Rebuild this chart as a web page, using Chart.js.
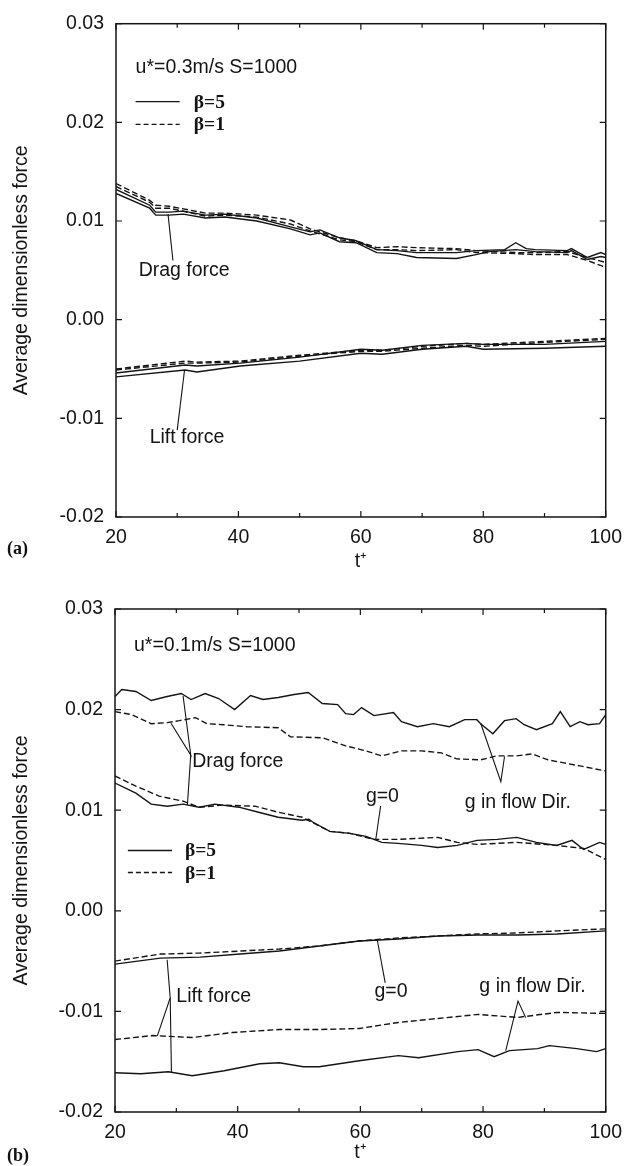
<!DOCTYPE html>
<html>
<head>
<meta charset="utf-8">
<script src="https://cdn.jsdelivr.net/npm/chart.js@4.4.1/dist/chart.umd.min.js"></script>
<style>
  html, body { margin: 0; padding: 0; background: #fff; }
  body { width: 631px; height: 1166px; position: relative; overflow: hidden; }
  canvas { position: absolute; left: 0; }
  #chartA { top: 0; }
  #chartB { top: 580px; }
  .tag { position: absolute; font: bold 18px/18px "Liberation Serif", serif; color: #111; }
</style>
</head>
<body>
<canvas id="chartA" width="631" height="580"></canvas>
<canvas id="chartB" width="631" height="586"></canvas>
<div class="tag" style="left:7px; top:539px">(a)</div>
<div class="tag" style="left:7px; top:1146px">(b)</div>
<script>
// axes
const xTicks = [20, 40, 60, 80, 100];
const xMinor = [30, 50, 70, 90];
const yTicks = [-0.02, -0.01, 0.00, 0.01, 0.02, 0.03];

// (a) u* = 0.3 m/s : [t+, force]
const aDragSolidHi = [[20,0.0132],[25.5,0.0116],[26.5,0.0109],[28.7,0.0109],[31,0.0110],[34.6,0.0106],[37.8,0.0107],[43,0.0103],[48.5,0.0094],[51.7,0.0089],[53.3,0.0091],[56.5,0.0083],[59.2,0.0080],[62.6,0.0071],[65.9,0.0070],[69.1,0.0068],[75.6,0.0068],[78.8,0.0070],[83.5,0.0071],[85.3,0.0078],[87,0.0072],[88.5,0.0071],[93.7,0.0070],[94.4,0.0072],[97,0.0063],[99.2,0.0068],[100,0.0066]];
const aDragSolidLo = [[20,0.0128],[25.5,0.0113],[26.5,0.0106],[28.7,0.0106],[31,0.0107],[34.6,0.0103],[37.8,0.0104],[43,0.0100],[48.5,0.0092],[51.7,0.0086],[53.3,0.0088],[56.5,0.0079],[59.2,0.0078],[62.6,0.0068],[65.9,0.0067],[69.1,0.0063],[75.6,0.0062],[78.8,0.0066],[81,0.0069],[85.3,0.0071],[88.5,0.0069],[93.7,0.0068],[94.4,0.0070],[97,0.0061],[99.2,0.0064],[100,0.0063]];
const aDragDashHi = [[20,0.0138],[25.5,0.0121],[26.5,0.0116],[28.7,0.0115],[34.6,0.0108],[37.8,0.0108],[43,0.0106],[48.5,0.0101],[51.7,0.0092],[56.5,0.0083],[59.2,0.0080],[62.6,0.0073],[65.9,0.0074],[69.1,0.0073],[75.6,0.0072],[78.8,0.0070],[85.3,0.0068],[88.5,0.0068],[93.7,0.0069],[97,0.0063],[100,0.0058]];
const aDragDashLo = [[20,0.0135],[25.5,0.0119],[26.5,0.0113],[28.7,0.0113],[34.6,0.0105],[37.8,0.0106],[43,0.0104],[48.5,0.0097],[51.7,0.0090],[56.5,0.0081],[59.2,0.0079],[62.6,0.0071],[65.9,0.0071],[69.1,0.0070],[75.6,0.0071],[78.8,0.0068],[85.3,0.0067],[88.5,0.0066],[93.7,0.0066],[97,0.0060],[100,0.0053]];
const aLiftSolidHi = [[20,-0.0054],[31.3,-0.0046],[33.2,-0.0047],[40.3,-0.0044],[50,-0.0038],[60,-0.0030],[63.5,-0.0031],[70,-0.0026],[77.2,-0.0024],[80,-0.0025],[90,-0.0025],[100,-0.0022]];
const aLiftSolidLo = [[20,-0.0058],[31.3,-0.0051],[33.2,-0.0053],[40.3,-0.0047],[50,-0.0042],[60,-0.0034],[63.5,-0.0035],[70,-0.0030],[77.2,-0.0027],[80,-0.0030],[90,-0.0029],[100,-0.0027]];
const aLiftDashHi = [[20,-0.0050],[31.3,-0.0042],[33.2,-0.0043],[40.3,-0.0042],[50,-0.0036],[60,-0.0031],[63.5,-0.0031],[70,-0.0027],[77.2,-0.0024],[80,-0.0025],[90,-0.0022],[100,-0.0019]];
const aLiftDashLo = [[20,-0.0051],[31.3,-0.0044],[33.2,-0.0044],[40.3,-0.0043],[50,-0.0037],[60,-0.0032],[63.5,-0.0032],[70,-0.0029],[77.2,-0.0026],[80,-0.0027],[90,-0.0023],[100,-0.0020]];

// (b) u* = 0.1 m/s : [t+, force]
const bDragFlow5 = [[20,0.0213],[21.1,0.0220],[23.4,0.0218],[25.9,0.0209],[28.5,0.0213],[30.8,0.0216],[32.4,0.0210],[34.7,0.0216],[36.9,0.0211],[39.5,0.0200],[42.1,0.0214],[44.1,0.0210],[46.6,0.0212],[49.2,0.0215],[51.5,0.0217],[53.8,0.0206],[56.3,0.0205],[57.6,0.0196],[58.9,0.0195],[60.2,0.0202],[62.2,0.0194],[65.4,0.0197],[66.7,0.0188],[69.3,0.0183],[71.9,0.0186],[74.5,0.0183],[77.0,0.0190],[79.0,0.0190],[79.6,0.0186],[81.6,0.0176],[83.5,0.0189],[85.4,0.0191],[86.7,0.0185],[88.7,0.0180],[91.3,0.0186],[92.6,0.0198],[94.2,0.0183],[95.8,0.0188],[97.1,0.0185],[99.0,0.0186],[100,0.0195]];
const bDragFlow1 = [[20,0.0198],[22.7,0.0195],[25.9,0.0186],[28.5,0.0187],[30.5,0.0189],[33.1,0.0192],[35.0,0.0186],[37.6,0.0185],[41.5,0.0183],[46.6,0.0182],[48.6,0.0173],[53.8,0.0172],[57.6,0.0164],[60.9,0.0159],[63.5,0.0154],[66.7,0.0159],[69.9,0.0159],[73.2,0.0157],[75.7,0.0151],[79.6,0.0150],[82.2,0.0154],[85.4,0.0154],[88.0,0.0156],[90.6,0.0150],[93.2,0.0147],[95.8,0.0144],[100,0.0139]];
const bDragZero5 = [[20,0.0127],[23.4,0.0117],[25.9,0.0106],[28.5,0.0104],[31.1,0.0106],[33.7,0.0103],[36.3,0.0106],[40.2,0.0103],[43.4,0.0098],[46.6,0.0093],[50.5,0.0090],[51.6,0.0091],[52.3,0.0088],[55.0,0.0079],[58.3,0.0077],[60.9,0.0074],[63.5,0.0068],[66.1,0.0067],[70.0,0.0065],[72.6,0.0063],[75.8,0.0065],[79.0,0.0070],[82.3,0.0071],[85.5,0.0073],[88.7,0.0068],[92.0,0.0065],[94.5,0.0070],[96.4,0.0061],[99.0,0.0068],[100,0.0066]];
const bDragZero1 = [[20,0.0134],[23.4,0.0124],[27.2,0.0114],[31.1,0.0109],[33.7,0.0103],[37.6,0.0105],[42.8,0.0104],[46.6,0.0098],[50.5,0.0093],[55.0,0.0079],[58.3,0.0077],[62.2,0.0071],[66.1,0.0071],[72.6,0.0073],[75.8,0.0068],[79.0,0.0066],[85.5,0.0068],[92.0,0.0065],[96.4,0.0062],[100,0.0051]];
const bLiftZero5 = [[20,-0.0053],[27.4,-0.0047],[33.9,-0.0046],[40.4,-0.0043],[46.8,-0.0040],[53.3,-0.0035],[59.8,-0.0030],[63.0,-0.0029],[66.2,-0.0028],[72.7,-0.0025],[79.2,-0.0024],[85.6,-0.0024],[92.1,-0.0023],[100,-0.0020]];
const bLiftZero1 = [[20,-0.0050],[27.4,-0.0043],[33.9,-0.0042],[40.4,-0.0040],[46.8,-0.0038],[53.3,-0.0035],[59.8,-0.0030],[66.2,-0.0027],[72.7,-0.0025],[79.2,-0.0023],[85.6,-0.0022],[92.1,-0.0020],[100,-0.0018]];
const bLiftFlow1 = [[20,-0.0128],[26.1,-0.0124],[32.6,-0.0126],[39.1,-0.0121],[46.8,-0.0118],[53.3,-0.0118],[59.8,-0.0117],[66.2,-0.0111],[72.7,-0.0107],[79.2,-0.0103],[85.6,-0.0106],[92.1,-0.0101],[100,-0.0102]];
const bLiftFlow5 = [[20,-0.0161],[24.2,-0.0162],[28.7,-0.0160],[32.6,-0.0164],[37.8,-0.0159],[43.6,-0.0152],[46.8,-0.0151],[50.7,-0.0155],[53.3,-0.0155],[59.8,-0.0149],[66.2,-0.0144],[69.5,-0.0146],[75.9,-0.0140],[79.2,-0.0138],[81.8,-0.0145],[84.3,-0.0139],[88.9,-0.0137],[90.8,-0.0134],[95.3,-0.0137],[98.5,-0.0140],[100,-0.0137]];

const ink = '#141414';
const sans = '"Liberation Sans", Arial, sans-serif';
const DASH = [6, 3];

function series(points, dashed) {
  return {
    data: points.map(([x, y]) => ({ x, y })),
    borderColor: ink,
    borderWidth: 1.4,
    borderDash: dashed ? DASH : [],
    pointRadius: 0,
    tension: 0,
    fill: false
  };
}

// frame with inward ticks, leader lines, in-plot text and legend
const overlay = {
  id: 'overlay',
  afterDraw(chart, args, o) {
    const { ctx, chartArea: a, scales: { x, y } } = chart;
    const px = t => x.getPixelForValue(t);
    const py = v => y.getPixelForValue(v);
    ctx.save();
    ctx.strokeStyle = ink;
    ctx.lineWidth = 1.5;
    ctx.setLineDash([]);
    ctx.strokeRect(a.left, a.top, a.right - a.left, a.bottom - a.top);

    ctx.lineWidth = 1.2;
    ctx.beginPath();
    xTicks.concat(xMinor).forEach(t => {
      const len = xTicks.includes(t) ? 6 : 4;
      ctx.moveTo(px(t), a.bottom); ctx.lineTo(px(t), a.bottom - len);
      ctx.moveTo(px(t), a.top); ctx.lineTo(px(t), a.top + len);
    });
    yTicks.forEach(v => {
      ctx.moveTo(a.left, py(v)); ctx.lineTo(a.left + 6, py(v));
      ctx.moveTo(a.right, py(v)); ctx.lineTo(a.right - 6, py(v));
    });
    ctx.stroke();

    ctx.lineWidth = 1.1;
    o.leaders.forEach(path => {
      ctx.beginPath();
      path.forEach(([t, v], i) => i ? ctx.lineTo(px(t), py(v)) : ctx.moveTo(px(t), py(v)));
      ctx.stroke();
    });

    ctx.fillStyle = ink;
    ctx.textBaseline = 'middle';
    ctx.textAlign = 'left';
    ctx.font = '19.5px ' + sans;
    o.labels.forEach(l => ctx.fillText(l.text, px(l.t), py(l.v)));

    const lg = o.legend;
    ctx.lineWidth = 1.4;
    lg.items.forEach(it => {
      ctx.setLineDash(it.dash);
      ctx.beginPath();
      ctx.moveTo(px(lg.t0), py(it.v));
      ctx.lineTo(px(lg.t1), py(it.v));
      ctx.stroke();
      ctx.setLineDash([]);
      ctx.font = 'bold 19.5px "Liberation Serif", serif';
      ctx.fillText(it.text, px(lg.tText), py(it.v) + 1);
    });
    ctx.restore();
  }
};

function makeChart(id, datasets, box, notes) {
  return new Chart(document.getElementById(id), {
    type: 'line',
    data: { datasets },
    plugins: [overlay],
    options: {
      responsive: false,
      animation: false,
      devicePixelRatio: 1,
      layout: { padding: { top: box.top, right: box.right, bottom: 0, left: 0 } },
      plugins: { legend: { display: false }, tooltip: { enabled: false }, overlay: notes },
      scales: {
        x: {
          type: 'linear', min: 20, max: 100,
          afterBuildTicks: s => { s.ticks = xTicks.map(value => ({ value })); },
          afterFit: s => { s.height = box.xHeight; },
          grid: { drawOnChartArea: false, drawTicks: false },
          border: { display: false },
          ticks: { color: ink, padding: 9, font: { family: sans, size: 19.5 } },
          title: { display: true, text: 't\u207A', color: ink, padding: { top: 0, bottom: box.titlePad },
                   font: { family: sans, size: 19.5 } }
        },
        y: {
          type: 'linear', min: -0.02, max: 0.03,
          afterBuildTicks: s => { s.ticks = yTicks.map(value => ({ value })); },
          afterFit: s => { s.width = box.yWidth; },
          grid: { drawOnChartArea: false, drawTicks: false },
          border: { display: false },
          ticks: { color: ink, padding: 12, font: { family: sans, size: 19.5 },
                   callback: v => v.toFixed(2) },
          title: { display: true, text: 'Average dimensionless force', color: ink,
                   padding: { top: 10, bottom: 0 }, font: { family: sans, size: 19.5 } }
        }
      }
    }
  });
}

makeChart('chartA', [
  series(aDragSolidHi), series(aDragSolidLo), series(aDragDashHi, true), series(aDragDashLo, true),
  series(aLiftSolidHi), series(aLiftSolidLo), series(aLiftDashHi, true), series(aLiftDashLo, true)
], { top: 14, right: 17, yWidth: 116, xHeight: 63, titlePad: 7 }, {
  labels: [
    { text: 'u*=0.3m/s S=1000', t: 23.2, v: 0.0255 },
    { text: 'Drag force', t: 23.7, v: 0.0050 },
    { text: 'Lift force', t: 25.5, v: -0.0120 }
  ],
  leaders: [
    [[29.3, 0.0060], [28.5, 0.0107]],
    [[30.0, -0.0112], [31.2, -0.0051]]
  ],
  legend: { t0: 23.2, t1: 30.4, tText: 32.7, items: [
    { text: '\u03B2=5', v: 0.0221, dash: [] },
    { text: '\u03B2=1', v: 0.0198, dash: [5, 3] }
  ] }
});

makeChart('chartB', [
  series(bDragFlow5), series(bDragFlow1, true), series(bDragZero5), series(bDragZero1, true),
  series(bLiftZero5), series(bLiftZero1, true), series(bLiftFlow1, true), series(bLiftFlow5)
], { top: 29, right: 19, yWidth: 115, xHeight: 54, titlePad: 2 }, {
  labels: [
    { text: 'u*=0.1m/s S=1000', t: 23.1, v: 0.0264 },
    { text: 'Drag force', t: 32.6, v: 0.0148 },
    { text: 'g=0', t: 60.9, v: 0.0113 },
    { text: 'g in flow Dir.', t: 77.0, v: 0.0108 },
    { text: 'Lift force', t: 30.0, v: -0.0085 },
    { text: 'g=0', t: 62.3, v: -0.0080 },
    { text: 'g in flow Dir.', t: 79.4, v: -0.0075 }
  ],
  leaders: [
    [[29.13, 0.01864], [32.35, 0.01549], [31.1, 0.02135]],
    [[32.35, 0.01549], [31.8, 0.01052]],
    [[63.3, 0.01042], [62.5, 0.00704]],
    [[79.6, 0.01867], [82.9, 0.01283], [83.5, 0.01534]],
    [[28.5, -0.00486], [29.0, -0.00867], [26.9, -0.01243]],
    [[29.0, -0.00867], [29.2, -0.01603]],
    [[64.05, -0.00717], [62.75, -0.00288]],
    [[83.7, -0.01391], [85.7, -0.00897], [86.96, -0.01062]]
  ],
  legend: { t0: 22.1, t1: 29.3, tText: 31.4, items: [
    { text: '\u03B2=5', v: 0.0060, dash: [] },
    { text: '\u03B2=1', v: 0.0038, dash: [5, 3] }
  ] }
});
</script>
</body>
</html>
